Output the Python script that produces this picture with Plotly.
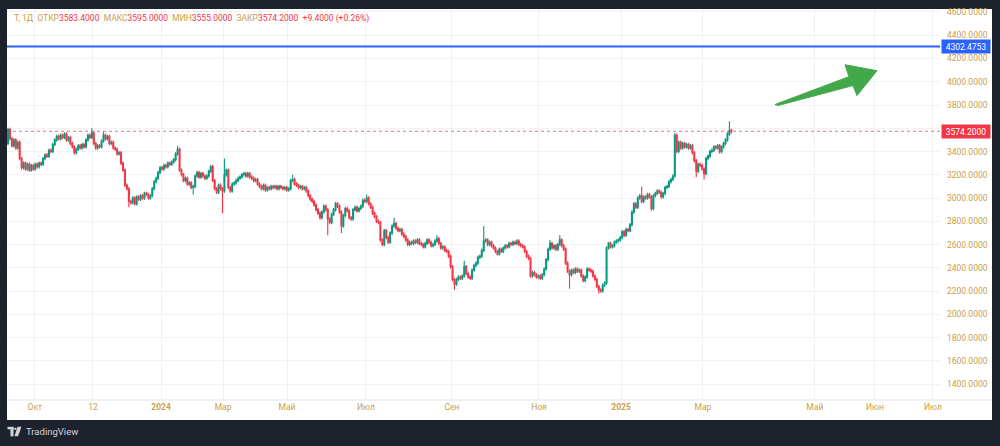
import plotly.graph_objects as go

# ---------------- data ----------------
ticker = "T"
interval = "1Д"
first_open = 3470
closes = [
    3590, 3510, 3450, 3500, 3430, 3480, 3340, 3260, 3300, 3250,
    3290, 3240, 3280, 3250, 3290, 3270, 3300, 3290, 3340, 3370,
    3360, 3410, 3400, 3460, 3500, 3530, 3510, 3540, 3520, 3550,
    3500, 3520, 3470, 3440, 3390, 3420, 3450, 3430, 3460, 3440,
    3500, 3540, 3520, 3560, 3470, 3430, 3450, 3440, 3490, 3540,
    3510, 3530, 3470, 3480, 3430, 3420, 3380, 3390, 3300, 3240,
    3110, 3080, 2970, 2960, 3000, 2950, 3010, 2990, 3020, 3000,
    3040, 3030, 3000, 3020, 3080, 3140, 3170, 3220, 3260, 3250,
    3280, 3270, 3300, 3290, 3310, 3330, 3380, 3420, 3240, 3200,
    3150, 3170, 3120, 3130, 3090, 3100, 3190, 3220, 3180, 3210,
    3190, 3170, 3190, 3230, 3270, 3150, 3080, 3050, 3110, 3080,
    3060, 3200, 3240, 3090, 3060, 3120, 3130, 3150, 3170, 3180,
    3200, 3210, 3190, 3210, 3180, 3170, 3150, 3160, 3120, 3100,
    3080, 3110, 3070, 3090, 3080, 3100, 3090, 3100, 3080, 3100,
    3090, 3080, 3090, 3070, 3080, 3150, 3160, 3120, 3110, 3090,
    3100, 3080, 3090, 3060, 3020, 2990, 2970, 2940, 2900, 2870,
    2830, 2880, 2930, 2900, 2820, 2790, 2860, 2900, 2950, 2930,
    2880, 2760, 2850, 2910, 2890, 2830, 2820, 2900, 2920, 2890,
    2910, 2930, 2980, 2970, 3000, 2950, 2920, 2870, 2840, 2800,
    2790, 2640, 2600, 2720, 2660, 2620, 2700, 2760, 2780, 2740,
    2720, 2730, 2690, 2670, 2640, 2600, 2620, 2610, 2630, 2620,
    2640, 2610, 2600, 2580, 2610, 2640, 2620, 2590, 2600, 2630,
    2650, 2610, 2570, 2580, 2550, 2540, 2500, 2410, 2300, 2260,
    2300, 2320, 2310, 2330, 2410, 2350, 2320, 2310, 2380, 2420,
    2440, 2490, 2500, 2550, 2630, 2640, 2600, 2620, 2590, 2570,
    2540, 2520, 2560, 2540, 2570, 2590, 2580, 2610, 2600, 2620,
    2610, 2630, 2600, 2590, 2580, 2540, 2500, 2480, 2330, 2360,
    2340, 2320, 2330, 2310, 2340, 2390, 2470, 2560, 2610, 2570,
    2590, 2560, 2600, 2640, 2590, 2560, 2440, 2370, 2340, 2380,
    2360, 2390, 2370, 2380, 2330, 2290, 2320, 2390, 2380, 2370,
    2330, 2300, 2240, 2210, 2200, 2250, 2270, 2570, 2610, 2580,
    2590, 2620, 2630, 2640, 2660, 2710, 2680, 2730, 2720, 2770,
    2880, 2950, 2920, 3000, 3020, 2970, 3010, 3000, 3030, 3010,
    2910, 3020, 3040, 3060, 3050, 3010, 3040, 3090, 3100, 3140,
    3160, 3190, 3540, 3400, 3480, 3430, 3470, 3440, 3460, 3430,
    3450, 3390, 3320, 3230, 3290, 3280, 3250, 3210, 3340, 3360,
    3400, 3410, 3440, 3430, 3450, 3400, 3440, 3470, 3500, 3550,
    3583.4, 3574.2,
]
spike_highs = {43: 3600, 49: 3570, 87: 3450, 111: 3340, 146: 3200, 184: 3030,
               198: 2830, 220: 2680, 234: 2460, 244: 2760, 278: 2640, 283: 2680,
               325: 3100, 342: 3560, 370: 3660, 371: 3595.0}
spike_lows = {62: 2920, 95: 3030, 110: 2870, 164: 2680, 171: 2700, 229: 2210,
              288: 2220, 303: 2180, 330: 2890, 353: 3180, 357: 3160, 365: 3380,
              371: 3555.0}

tick_pos = [13.8, 43.6, 78.5, 110.3, 143.1, 183.6, 227.7, 272.3, 314.4, 356.4,
            413.8, 444.6, 474.4]
tick_text = ["Окт", "12", "<b>2024</b>", "Мар", "Май", "Июл", "Сен", "Ноя",
             "<b>2025</b>", "Мар", "Май", "Июн", "Июл"]
price_ticks = list(range(1400, 4601, 200))
hidden_price_ticks = [3600]          # covered by the last-price label in the reference
level_line = 4302.4753
leg_open, leg_high, leg_low, leg_close = 3583.4, 3595.0, 3555.0, 3574.2
leg_chg, leg_chg_pct = 9.4, 0.26

# ---------------- derived OHLC ----------------
xs = list(range(len(closes)))
opens = [first_open] + closes[:-1]
WICK = 15
highs = [spike_highs.get(i, max(o, c) + WICK) for i, (o, c) in enumerate(zip(opens, closes))]
lows = [spike_lows.get(i, min(o, c) - WICK) for i, (o, c) in enumerate(zip(opens, closes))]
price_labels = ["" if v in hidden_price_ticks else f"{v:.4f}" for v in price_ticks]

# ---------------- layout geometry ----------------
W, H = 1000, 446
PL, PR, PT, PB = 7, 940, 7, 400   # plot area in pixels


def px(x):
    return (x - PL) / (PR - PL)


def py(y):
    return (PB - y) / (PB - PT)


UP, DN = "#089981", "#f23645"
GOLD = "#c9a04a"
GRID = "#f1f2f5"
FONT = "Roboto"

fig = go.Figure()
fig.add_trace(go.Candlestick(
    x=xs, open=opens, high=highs, low=lows, close=closes,
    increasing=dict(line=dict(color=UP, width=1.1), fillcolor=UP),
    decreasing=dict(line=dict(color=DN, width=1.1), fillcolor=DN),
    whiskerwidth=0, hoverinfo="skip", showlegend=False,
))

shapes = []
# white chart panel
shapes.append(dict(type="rect", xref="paper", yref="paper", layer="below",
                   x0=px(7), x1=px(992), y0=py(420), y1=py(7),
                   fillcolor="white", line=dict(width=0)))
# time scale separator
shapes.append(dict(type="line", xref="paper", yref="paper",
                   x0=px(7), x1=px(992), y0=0, y1=0,
                   line=dict(color="#e0e3eb", width=1)))
# horizontal level
shapes.append(dict(type="line", xref="paper", yref="y", x0=0, x1=1,
                   y0=level_line, y1=level_line, line=dict(color="#2962ff", width=2)))
# last price line
shapes.append(dict(type="line", xref="paper", yref="y", x0=0, x1=1,
                   y0=leg_close, y1=leg_close,
                   line=dict(color="rgba(242,54,69,0.75)", width=1, dash="dot")))
# green arrow
arrow_pts = [(775, 103), (849, 75), (845, 63), (877, 69), (857, 94), (853, 84), (778, 104)]
path = "M " + " L ".join(f"{px(a):.5f},{py(b):.5f}" for a, b in arrow_pts) + " Z"
shapes.append(dict(type="path", xref="paper", yref="paper", path=path,
                   fillcolor="#43a84a", line=dict(color="#43a84a", width=1)))
# TradingView logo
LOGO = "#d1d4dc"
shapes.append(dict(type="rect", xref="paper", yref="paper", x0=px(7.5), x1=px(13.5),
                   y0=py(429.5), y1=py(427), fillcolor=LOGO, line=dict(width=0)))
shapes.append(dict(type="rect", xref="paper", yref="paper", x0=px(10.5), x1=px(13.5),
                   y0=py(436.5), y1=py(427), fillcolor=LOGO, line=dict(width=0)))
shapes.append(dict(type="circle", xref="paper", yref="paper", x0=px(14.2), x1=px(16.6),
                   y0=py(430.2), y1=py(427.8), fillcolor=LOGO, line=dict(width=0)))
logo_pts = [(17.5, 427), (21.5, 427), (18, 436.5), (14.5, 436.5)]
shapes.append(dict(type="path", xref="paper", yref="paper",
                   path="M " + " L ".join(f"{px(a):.5f},{py(b):.5f}" for a, b in logo_pts) + " Z",
                   fillcolor=LOGO, line=dict(width=0)))


def span(txt, col):
    return f'<span style="color:{col}">{txt}</span>'


sp = "\u00a0\u00a0"
legend_txt = (span(f"{ticker}, {interval}{sp}ОТКР", GOLD) + span(f"{leg_open:.4f}", DN)
              + span(f"{sp}МАКС", GOLD) + span(f"{leg_high:.4f}", DN)
              + span(f"{sp}МИН", GOLD) + span(f"{leg_low:.4f}", DN)
              + span(f"{sp}ЗАКР", GOLD) + span(f"{leg_close:.4f}", DN)
              + span(f"{sp}+{leg_chg:.4f} (+{leg_chg_pct:.2f}%)", DN))

annotations = [
    dict(xref="paper", yref="paper", x=px(12), y=py(17), xanchor="left", yanchor="middle",
         text=legend_txt, showarrow=False, font=dict(family=FONT, size=8.5, color=GOLD)),
    dict(xref="paper", yref="y", x=px(941), y=level_line, xanchor="left", yanchor="middle",
         text=f"{level_line:.4f}", showarrow=False, bgcolor="#2962ff", width=44, height=9,
         borderpad=2, font=dict(family=FONT, size=8.5, color="white")),
    dict(xref="paper", yref="y", x=px(941), y=leg_close, xanchor="left", yanchor="middle",
         text=f"{leg_close:.4f}", showarrow=False, bgcolor=DN, width=44, height=9,
         borderpad=2, font=dict(family=FONT, size=8.5, color="white")),
    dict(xref="paper", yref="paper", x=px(23.5), y=py(432), xanchor="left", yanchor="middle",
         text="TradingView", showarrow=False, font=dict(family=FONT, size=9.5, color="#d1d4dc")),
]

fig.update_layout(
    width=W, height=H,
    margin=dict(l=PL, r=W - PR, t=PT, b=H - PB, pad=0),
    paper_bgcolor="#1e222d", plot_bgcolor="white",
    shapes=shapes, annotations=annotations,
    font=dict(family=FONT, size=8.5, color=GOLD),
    xaxis=dict(range=[-0.5, 478], tickmode="array", tickvals=tick_pos, ticktext=tick_text,
               showgrid=True, gridcolor=GRID, gridwidth=1, zeroline=False, showline=False,
               ticks="", tickfont=dict(family=FONT, size=8.5, color=GOLD),
               rangeslider=dict(visible=False), fixedrange=True),
    yaxis=dict(side="right", range=[1263.1, 4625.7], tickmode="array", tickvals=price_ticks,
               ticktext=price_labels, showgrid=True, gridcolor=GRID, gridwidth=1,
               zeroline=False, showline=False, ticks="", ticklabelstandoff=6,
               tickfont=dict(family=FONT, size=8.5, color=GOLD), fixedrange=True),
)

fig.write_html("out.html")
